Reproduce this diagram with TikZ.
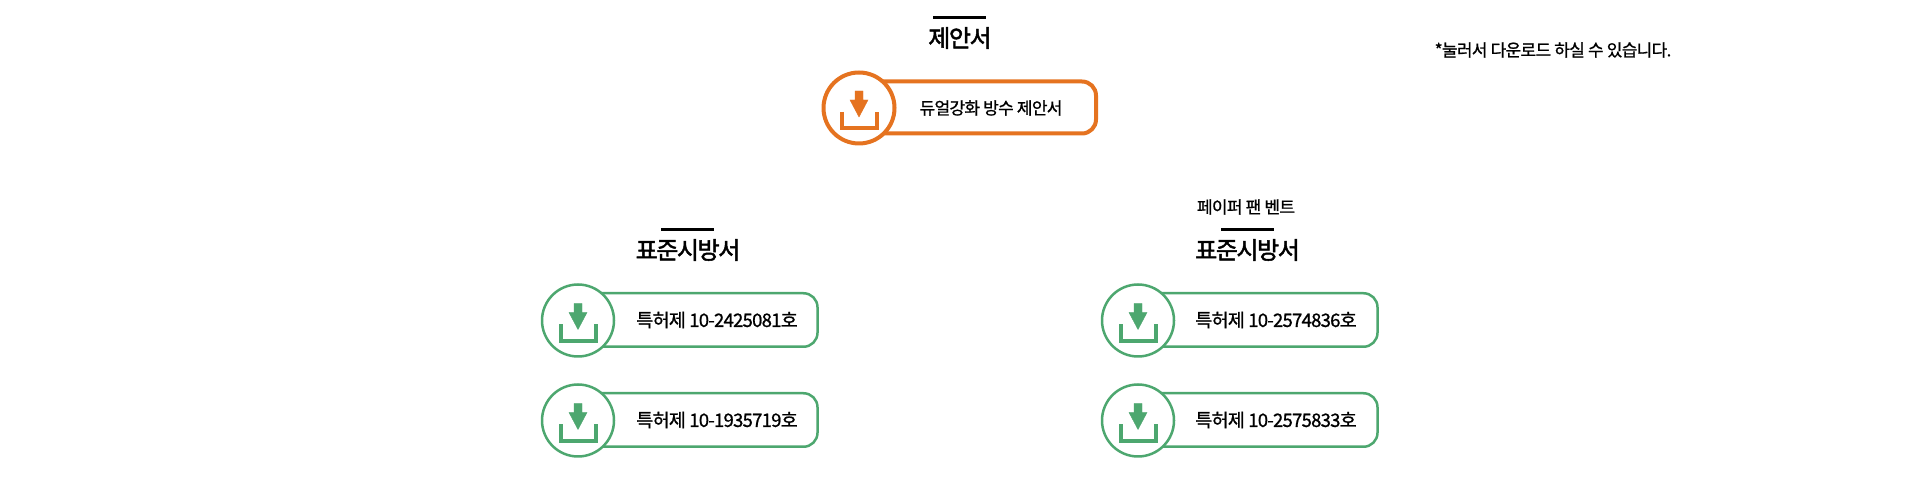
\documentclass[tikz,border=0pt]{standalone}
\usepackage{fontspec}
\setmainfont{Noto Sans CJK KR}[LetterSpace=-4,FakeBold=1]
\newfontfamily\titlefont{Noto Sans CJK KR}[LetterSpace=-6,FakeBold=2]
\definecolor{orangeline}{HTML}{E57320}
\definecolor{greenline}{HTML}{4DA76F}
\tikzset{
    dlicon/.pic={
        \fill [pic actions] (-4,17) -- (4,17) -- (4,8) -- (9,8) -- (0,-9) -- (-9,8) -- (-4,8) -- cycle;
        \draw [pic actions, fill=none, line width=4pt] (-17.5,-4) -- (-17.5,-20.5) -- (17.5,-20.5) -- (17.5,-4);
    }
}

\begin{document}
\begin{tikzpicture}[x=1pt, y=1pt, node distance=100pt]
    \tikzstyle{heading} = [inner sep=0pt, font=\titlefont\fontsize{24}{24}\selectfont]
    \tikzstyle{bar} = [rectangle, fill=black, inner sep=0pt, minimum width=53pt, minimum height=3pt]
    \tikzstyle{note} = [inner sep=0pt, font=\fontsize{17}{17}\selectfont]
    \tikzstyle{patent} = [inner sep=0pt, font=\fontsize{18.5}{18.5}\selectfont]
    \tikzstyle{greenbox} = [rectangle, rounded corners=14pt, minimum width=240pt, minimum height=53.5pt, draw=greenline, line width=2.5pt, fill=white]
    \tikzstyle{greencircle} = [circle, minimum size=72pt, inner sep=0pt, draw=greenline, line width=2.5pt, fill=white]
    \tikzstyle{orangebox} = [rectangle, rounded corners=14pt, minimum width=238pt, minimum height=52pt, draw=orangeline, line width=4pt, fill=white]
    \tikzstyle{orangecircle} = [circle, minimum size=71pt, inner sep=0pt, draw=orangeline, line width=4pt, fill=white]

    \useasboundingbox (0,0) rectangle (1920,500);

    % Top group
    \node [bar] (top_bar) at (959.5,482.5) {};
    \node [heading] (top_title) at (960,462) {제안서};
    \node [note] (hint) at (1553,450) {*눌러서 다운로드 하실 수 있습니다.};
    \node [orangebox] (top_box) at (977,392.5) {};
    \node [orangecircle] (top_circle) at (859,392) {};
    \node [note] (top_text) at (991,392) {듀얼강화 방수 제안서};
    \pic [fill=orangeline, draw=orangeline] at (top_circle) {dlicon};

    % Left group
    \node [bar] (left_bar) at (687.5,270.5) {};
    \node [heading] (left_title) at (688,250) {표준시방서};
    \node [greenbox] (left_box_a) at (697.5,180) {};
    \node [greenbox, below of=left_box_a] (left_box_b) {};
    \node [greencircle] (left_circle_a) at (578,179.5) {};
    \node [greencircle, below of=left_circle_a] (left_circle_b) {};
    \node [patent] (left_text_a) at (717,180) {특허제 10-2425081호};
    \node [patent, below of=left_text_a] (left_text_b) {특허제 10-1935719호};
    \pic [fill=greenline, draw=greenline] at (left_circle_a) {dlicon};
    \pic [fill=greenline, draw=greenline] at (left_circle_b) {dlicon};

    % Right group
    \node [note] (right_top) at (1246,293) {페이퍼 팬 벤트};
    \node [bar] (right_bar) at (1247.5,270.5) {};
    \node [heading] (right_title) at (1247.5,250) {표준시방서};
    \node [greenbox] (right_box_a) at (1257.5,180) {};
    \node [greenbox, below of=right_box_a] (right_box_b) {};
    \node [greencircle] (right_circle_a) at (1138,179.5) {};
    \node [greencircle, below of=right_circle_a] (right_circle_b) {};
    \node [patent] (right_text_a) at (1276,180) {특허제 10-2574836호};
    \node [patent, below of=right_text_a] (right_text_b) {특허제 10-2575833호};
    \pic [fill=greenline, draw=greenline] at (right_circle_a) {dlicon};
    \pic [fill=greenline, draw=greenline] at (right_circle_b) {dlicon};
\end{tikzpicture}
\end{document}
